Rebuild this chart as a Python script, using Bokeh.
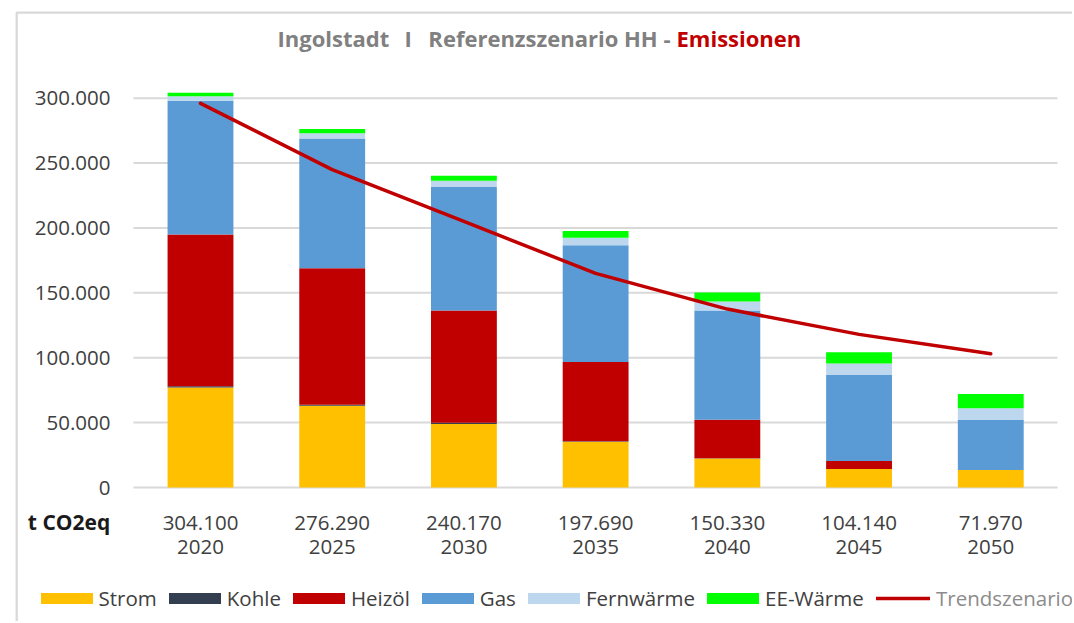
from bokeh.plotting import figure
from bokeh.models import ColumnDataSource, Range1d, Legend, LegendItem
from bokeh.core.properties import value
from bokeh.embed import file_html
from bokeh.resources import INLINE

# ---------------- data ----------------
years = ["2020", "2025", "2030", "2035", "2040", "2045", "2050"]
total_labels = ["304.100", "276.290", "240.170", "197.690", "150.330", "104.140", "71.970"]
strom = [77000, 63000, 49000, 35300, 22400, 14200, 13400]
kohle = [1000, 800, 800, 300, 100, 0, 0]
heizoel = [117000, 105200, 86500, 61200, 29700, 6200, 0]
gas = [103000, 100000, 95200, 89900, 84100, 66300, 38600]
fernwaerme = [3500, 4000, 4800, 5700, 7000, 8800, 9000]
ee_waerme = [2600, 3290, 3870, 5290, 7030, 8640, 10970]
trend = [296000, 245000, 205000, 165000, 137500, 118000, 103000]

series_names = ["Strom", "Kohle", "Heizöl", "Gas", "Fernwärme", "EE-Wärme"]
series_colors = ["#FFC000", "#333F50", "#C00000", "#5B9BD5", "#BDD7EE", "#00FF00"]
trend_name = "Trendszenario"

y_ticks = [0, 50000, 100000, 150000, 200000, 250000, 300000]
y_tick_labels = ["0", "50.000", "100.000", "150.000", "200.000", "250.000", "300.000"]

unit_label = "t CO2eq"
title_parts = ["Ingolstadt", "I", "Referenzszenario HH -", "Emissionen"]

# ---------------- layout helpers (page pixels -> data) ----------------
FONT = "Open Sans"
TXT = "#404040"
GRID = "#d9d9d9"
FS = "20.5px"
PAGE_X0, PAGE_Y0 = 0, 0
W, H = 1072, 621
X_REF_PX, X_REF = 200.0, 2020.0       # centre of the first bar
PX_PER_YEAR = 131.71 / 5.0
ZERO_PX = 487.0
PX_PER_UNIT = 1.2977 / 1000.0


def px_x(px):
    return X_REF + (px - X_REF_PX) / PX_PER_YEAR


def px_y(py):
    return (ZERO_PX - py) / PX_PER_UNIT


year_nums = [int(y) for y in years]

data = dict(x=year_nums)
for name, vals in zip(series_names, [strom, kohle, heizoel, gas, fernwaerme, ee_waerme]):
    data[name] = vals
src = ColumnDataSource(data)

p = figure(x_range=Range1d(px_x(PAGE_X0), px_x(PAGE_X0 + W)),
           y_range=Range1d(px_y(PAGE_Y0 + H), px_y(PAGE_Y0)),
           width=W, height=H, output_backend="svg", toolbar_location=None,
           min_border=0, min_border_left=0, min_border_right=0,
           min_border_top=0, min_border_bottom=0)
p.xaxis.visible = False
p.yaxis.visible = False
p.xgrid.visible = False
p.ygrid.visible = False
p.outline_line_color = None
p.background_fill_color = "white"
p.border_fill_color = "white"

# chart frame (light grey border, top and left)
p.line(x=[px_x(16.2), px_x(16.2), px_x(PAGE_X0 + W)],
       y=[px_y(PAGE_Y0 + H), px_y(12.2), px_y(12.2)],
       line_color=GRID, line_width=2.3)

# horizontal gridlines
n = len(y_ticks)
p.segment(x0=[px_x(133)] * n, x1=[px_x(1057)] * n, y0=y_ticks, y1=y_ticks,
          line_color=GRID, line_width=2)

# y tick labels
p.text(x=[px_x(110)] * n, y=y_ticks, text=y_tick_labels,
       text_align="right", text_baseline="middle", text_color=TXT,
       text_font=value(FONT), text_font_size=FS)

# stacked bars
bars = p.vbar_stack(series_names, x="x", width=2.5, color=series_colors,
                    line_color=None, source=src)

# trend line
trend_r = p.line(x=year_nums, y=trend, line_color="#C00000", line_width=3.5,
                 line_cap="round", line_join="round")

# category labels: totals and years
m = len(years)
p.text(x=year_nums, y=[px_y(522)] * m, text=total_labels,
       text_align="center", text_baseline="middle", text_color=TXT,
       text_font=value(FONT), text_font_size=FS)
p.text(x=year_nums, y=[px_y(546)] * m, text=years,
       text_align="center", text_baseline="middle", text_color=TXT,
       text_font=value(FONT), text_font_size=FS)

# unit label
p.text(x=[px_x(68.5)], y=[px_y(521)], text=[unit_label],
       text_align="center", text_baseline="middle", text_color="#1a1a1a",
       text_font=value(FONT), text_font_style="bold", text_font_size="21px")

# title pieces
ty = px_y(37.5)
TFS = "22px"
p.text(x=[px_x(277), px_x(404)], y=[ty, ty], text=title_parts[:2],
       text_align="left", text_baseline="middle", text_color="#808080",
       text_font=value(FONT), text_font_style="bold", text_font_size=TFS)
p.text(x=[px_x(670)], y=[ty], text=[title_parts[2]],
       text_align="right", text_baseline="middle", text_color="#808080",
       text_font=value(FONT), text_font_style="bold", text_font_size=TFS)
p.text(x=[px_x(676)], y=[ty], text=[title_parts[3]],
       text_align="left", text_baseline="middle", text_color="#C00000",
       text_font=value(FONT), text_font_style="bold", text_font_size=TFS)

# legends (area swatches are drawn with a 10% inset by Bokeh)
leg1 = Legend(items=[LegendItem(label=nm, renderers=[r]) for nm, r in zip(series_names, bars)],
              orientation="horizontal", location=(42 - 6.5 - 2 - PAGE_X0, 9),
              glyph_width=65, glyph_height=14, label_standoff=0, spacing=5,
              padding=0, margin=0, border_line_color=None, background_fill_alpha=0,
              label_text_font=FONT, label_text_font_size=FS, label_text_color=TXT)
leg2 = Legend(items=[LegendItem(label=trend_name, renderers=[trend_r])],
              orientation="horizontal", location=(876 - PAGE_X0, 9),
              glyph_width=54, glyph_height=14, label_standoff=6, spacing=0,
              padding=0, margin=0, border_line_color=None, background_fill_alpha=0,
              label_text_font=FONT, label_text_font_size=FS, label_text_color="#8c8c8c")
p.add_layout(leg1)
p.add_layout(leg2)

open("out.html", "w").write(file_html(p, INLINE))
